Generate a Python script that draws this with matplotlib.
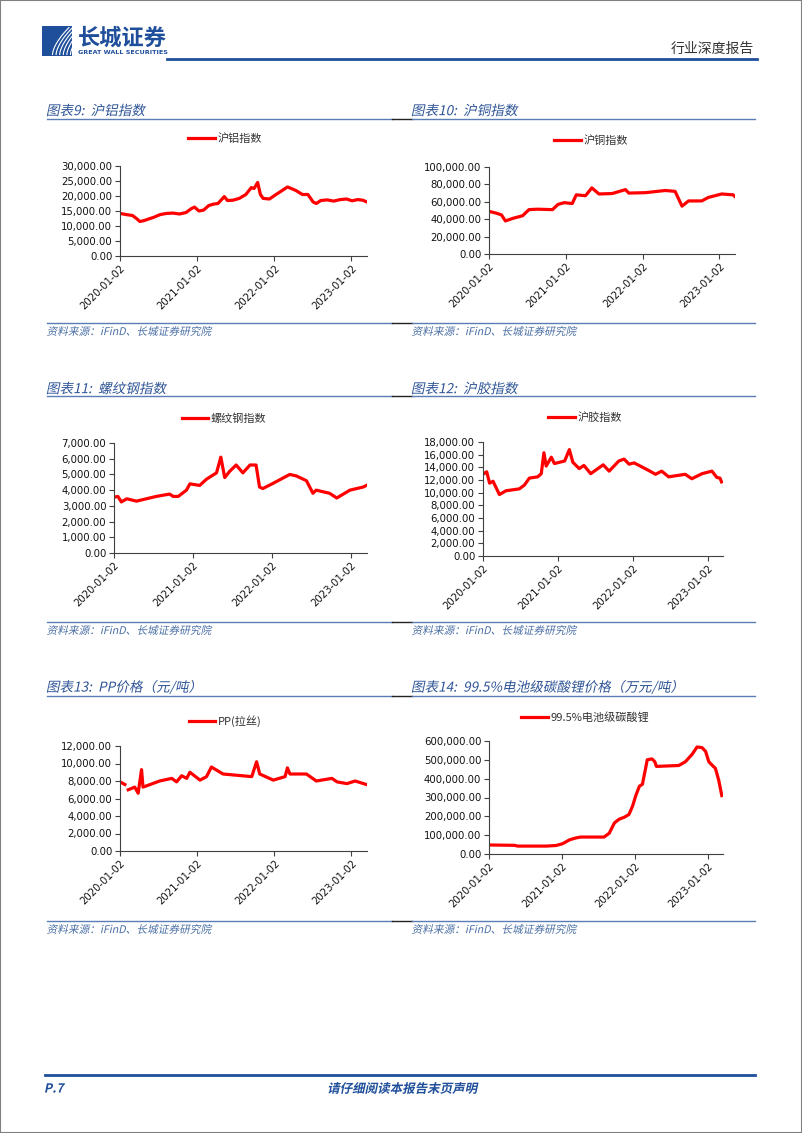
import numpy as np
import pandas as pd
import matplotlib.pyplot as plt
import matplotlib.transforms as mtransforms
from matplotlib.lines import Line2D
from matplotlib.patches import Rectangle, PathPatch
from matplotlib.textpath import TextPath
from matplotlib.font_manager import FontProperties
from matplotlib.ticker import FuncFormatter, MultipleLocator

plt.rcParams['font.family'] = ['Noto Sans CJK SC', 'DejaVu Sans']

# ---- 数据 ----
al_dates = ['2020-01-02', '2020-02-01', '2020-03-01', '2020-03-20', '2020-04-05', '2020-04-25',
            '2020-05-15', '2020-06-10', '2020-07-10', '2020-08-10', '2020-09-10', '2020-10-10',
            '2020-11-10', '2020-12-05', '2020-12-20', '2021-01-10', '2021-02-01', '2021-02-25',
            '2021-03-20', '2021-04-10', '2021-05-10', '2021-05-25', '2021-06-20', '2021-07-20',
            '2021-08-20', '2021-09-15', '2021-09-28', '2021-10-15', '2021-10-28', '2021-11-10',
            '2021-12-10', '2022-01-10', '2022-02-01', '2022-03-05', '2022-03-20', '2022-04-15',
            '2022-05-15', '2022-06-10', '2022-07-05', '2022-07-20', '2022-08-10', '2022-09-10',
            '2022-10-10', '2022-11-10', '2022-12-10', '2023-01-05', '2023-02-01', '2023-02-25',
            '2023-03-17']
al_vals = [14200, 13800, 13500, 12500, 11500, 11800, 12300, 12900, 13800, 14200, 14300, 14000,
           14500, 15800, 16300, 15000, 15300, 16800, 17300, 17500, 19800, 18500, 18600, 19200,
           20500, 22800, 22500, 24500, 20500, 19200, 19000, 20500, 21500, 23000, 22600, 21800,
           20500, 20500, 18000, 17500, 18500, 18700, 18300, 18800, 19000, 18400, 18800, 18600,
           18000]

cu_dates = ['2020-01-02', '2020-02-05', '2020-03-01', '2020-03-20', '2020-04-25', '2020-06-10',
            '2020-07-10', '2020-08-20', '2020-10-30', '2020-11-25', '2020-12-25', '2021-02-01',
            '2021-02-20', '2021-04-05', '2021-05-05', '2021-06-08', '2021-08-10', '2021-10-12',
            '2021-10-28', '2022-01-15', '2022-04-20', '2022-06-05', '2022-07-08', '2022-08-08',
            '2022-10-10', '2022-11-10', '2023-01-13', '2023-03-08', '2023-03-17']
cu_vals = [49000, 47000, 45000, 38000, 41000, 44000, 51000, 51500, 51000, 57000, 59000, 58000,
           68000, 67000, 76000, 69000, 69500, 74000, 70000, 70500, 73000, 72000, 55000, 61000,
           61000, 65000, 69000, 68000, 66000]

rb_dates = ['2020-01-02', '2020-01-20', '2020-02-05', '2020-03-01', '2020-04-15', '2020-07-15',
            '2020-09-15', '2020-10-02', '2020-10-25', '2020-12-02', '2020-12-18', '2021-02-01',
            '2021-03-05', '2021-04-20', '2021-05-10', '2021-05-28', '2021-06-20', '2021-07-20',
            '2021-08-20', '2021-09-22', '2021-10-20', '2021-11-05', '2021-11-20', '2022-01-02',
            '2022-03-25', '2022-04-25', '2022-06-10', '2022-07-10', '2022-07-25', '2022-09-25',
            '2022-10-28', '2022-12-28', '2023-01-28', '2023-02-28', '2023-03-14']
rb_vals = [3550, 3600, 3250, 3450, 3300, 3600, 3750, 3600, 3600, 4000, 4400, 4300,
           4700, 5100, 6100, 4800, 5200, 5600, 5100, 5600, 5600, 4200, 4100, 4400,
           5000, 4900, 4600, 3800, 4000, 3800, 3500, 4000, 4100, 4200, 4300]

ru_dates = ['2020-01-02', '2020-01-20', '2020-02-03', '2020-02-20', '2020-03-22', '2020-04-23',
            '2020-06-27', '2020-07-22', '2020-08-15', '2020-09-25', '2020-10-12', '2020-10-25',
            '2020-11-05', '2020-11-30', '2020-12-15', '2021-02-03', '2021-02-26', '2021-03-15',
            '2021-04-15', '2021-05-08', '2021-06-10', '2021-08-10', '2021-09-08', '2021-10-25',
            '2021-11-20', '2021-12-14', '2022-01-08', '2022-03-20', '2022-04-22', '2022-05-22',
            '2022-06-25', '2022-09-14', '2022-10-16', '2022-12-05', '2023-01-22', '2023-02-15',
            '2023-03-02', '2023-03-10']
ru_vals = [12900, 13300, 11500, 11800, 9700, 10300, 10600, 11200, 12300, 12500, 13000, 16300,
           14200, 15600, 14600, 15000, 16800, 14800, 13800, 14300, 13000, 14400, 13400, 15000,
           15300, 14500, 14700, 13500, 12900, 13400, 12500, 12900, 12200, 13000, 13400, 12400,
           12300, 11700]

pp_dates = ['2020-01-02', '2020-01-25', '2020-02-01', '2020-02-10', '2020-03-12', '2020-03-28',
            '2020-04-13', '2020-04-20', '2020-07-08', '2020-09-03', '2020-09-26', '2020-10-20',
            '2020-11-13', '2020-11-28', '2021-01-15', '2021-02-15', '2021-03-10', '2021-05-04',
            '2021-09-17', '2021-10-10', '2021-10-25', '2021-12-28', '2022-02-22', '2022-03-05',
            '2022-03-17', '2022-06-03', '2022-07-20', '2022-10-02', '2022-10-26', '2022-12-12',
            '2023-01-20', '2023-03-14']
pp_vals = [7900, 7600, np.nan, 7000, 7300, 6600, 9300, 7300, 8000, 8300, 7900, 8600,
           8300, 9000, 8100, 8500, 9600, 8800, 8500, 10200, 8800, 8100, 8500, 9500,
           8800, 8800, 8000, 8300, 7900, 7700, 8000, 7600]

li_dates = ['2020-01-02', '2020-05-08', '2020-05-25', '2020-10-14', '2020-12-02', '2021-01-05',
            '2021-02-07', '2021-03-10', '2021-04-04', '2021-07-30', '2021-08-25', '2021-09-20',
            '2021-10-14', '2021-11-08', '2021-12-02', '2021-12-20', '2022-01-05', '2022-01-23',
            '2022-02-07', '2022-02-24', '2022-03-03', '2022-03-27', '2022-04-10', '2022-04-18',
            '2022-08-08', '2022-09-10', '2022-10-14', '2022-11-07', '2022-12-02', '2022-12-20',
            '2023-01-05', '2023-01-23', '2023-02-07', '2023-02-24', '2023-03-11']
li_vals = [48000, 46000, 42000, 42000, 45000, 55000, 75000, 85000, 90000, 90000, 110000, 165000,
           185000, 195000, 210000, 255000, 310000, 360000, 370000, 460000, 500000, 505000, 490000,
           465000, 470000, 490000, 530000, 568000, 565000, 545000, 490000, 470000, 455000, 390000,
           310000]

year_ticks = ['2020-01-02', '2021-01-02', '2022-01-02', '2023-01-02']

W, H = 802, 1133
BLUE = '#1F4E9A'
TITLE_C = '#2F5597'
SRC_C = '#4A6FA5'
LINE_C = '#5B7DB5'

fig = plt.figure(figsize=(W / 100, H / 100), dpi=100)


def add_ax(x0, y0, x1, y1):
    return fig.add_axes([x0 / W, 1 - y1 / H, (x1 - x0) / W, (y1 - y0) / H])


def hline(x0, x1, y, color, lw):
    fig.add_artist(Line2D([x0 / W, x1 / W], [1 - y / H, 1 - y / H],
                          transform=fig.transFigure, color=color, lw=lw))


def itext(x, y, s, px, color, weight='normal', ha='left'):
    # 斜体文字: 用路径加倾斜变换模拟
    fp = FontProperties(family=['Noto Sans CJK SC', 'DejaVu Sans'], weight=weight)
    tp = TextPath((0, 0), s, size=px, prop=fp)
    bb = tp.get_extents()
    dx = x - bb.x0 if ha == 'left' else x - (bb.x0 + bb.x1) / 2
    tr = (mtransforms.Affine2D().skew_deg(12, 0)
          .translate(dx, (H - y) - (bb.y0 + bb.y1) / 2))
    fig.add_artist(PathPatch(tp, transform=tr, color=color, lw=0))


# 页面边框
fig.add_artist(Rectangle((0, 0), 1, 1, transform=fig.transFigure, fill=False,
                         ec='#808080', lw=1.5))

# 页眉
lax = add_ax(42, 26, 72, 56)
lax.add_patch(Rectangle((0, 0), 1, 1, color=BLUE))
t = np.linspace(0, 1, 50)
for k in range(6):
    off = 0.12 * k
    lax.plot(0.35 + off + 0.55 * t ** 1.6, 0.05 + 0.9 * t, color='white', lw=0.8)
lax.set_xlim(0, 1)
lax.set_ylim(0, 1)
lax.axis('off')
fig.text(78 / W, 1 - 38 / H, '长城证券', fontsize=16, fontweight='bold', color=BLUE,
         va='center', ha='left')
fig.text(78 / W, 1 - 53 / H, 'GREAT WALL SECURITIES', fontsize=4.6, fontweight='bold',
         color=BLUE, va='center', ha='left', family='DejaVu Sans')
hline(167, 757, 59, BLUE, 2)
fig.text(754 / W, 1 - 49 / H, '行业深度报告', fontsize=10, color='#333333',
         va='center', ha='right')

# 页脚
hline(45, 755, 1075, BLUE, 2)
itext(45, 1088, 'P.7', 12.5, BLUE, weight='bold')
itext(402, 1088, '请仔细阅读本报告末页声明', 12.5, BLUE, weight='bold', ha='center')

# 各图表
charts = [
    ('图表9:  沪铝指数', '沪铝指数', al_dates, al_vals, 30000, 5000,
     (120, 166, 367, 256), (225, 139), 47, 110, 119, 323, 331),
    ('图表10:  沪铜指数', '沪铜指数', cu_dates, cu_vals, 100000, 20000,
     (489, 167, 735, 254), (591, 141), 412, 110, 119, 323, 331),
    ('图表11:  螺纹钢指数', '螺纹钢指数', rb_dates, rb_vals, 7000, 1000,
     (114, 443, 367, 553), (224, 419), 47, 388, 396, 622, 630),
    ('图表12:  沪胶指数', '沪胶指数', ru_dates, ru_vals, 18000, 2000,
     (483, 442, 723, 556), (585, 417), 412, 388, 396, 622, 630),
    ('图表13:  PP价格（元/吨）', 'PP(拉丝)', pp_dates, pp_vals, 12000, 2000,
     (120, 746, 367, 851), (225, 721), 47, 687, 696, 921, 929),
    ('图表14:  99.5%电池级碳酸锂价格（万元/吨）', '99.5%电池级碳酸锂', li_dates, li_vals,
     600000, 100000, (489, 741, 723, 854), (585, 717), 412, 687, 696, 921, 929),
]

x_start = pd.Timestamp('2020-01-02')
x_end = pd.Timestamp('2023-03-17')

for (title, label, dates, vals, ymax, ystep, box, leg_c,
     tx, ty, uy, sy, sty) in charts:
    ax = add_ax(*box)
    ax.plot(pd.to_datetime(dates), vals, color='#FF0000', lw=2.3, label=label)
    ax.set_xlim(x_start, x_end)
    ax.set_ylim(0, ymax)
    ax.yaxis.set_major_locator(MultipleLocator(ystep))
    ax.yaxis.set_major_formatter(FuncFormatter(lambda v, p: f'{v:,.2f}'))
    ax.set_xticks(pd.to_datetime(year_ticks))
    ax.set_xticklabels(year_ticks, rotation=45, ha='right', rotation_mode='anchor')
    for lab in ax.get_xticklabels() + ax.get_yticklabels():
        lab.set_family('DejaVu Sans')
        lab.set_fontsize(7.3)
        lab.set_color('#111111')
    ax.tick_params(axis='both', length=3.5, width=0.8, color='#404040', pad=2)
    ax.spines['top'].set_visible(False)
    ax.spines['right'].set_visible(False)
    for sp in ('left', 'bottom'):
        ax.spines[sp].set_color('#404040')
        ax.spines[sp].set_linewidth(0.8)
    ax.legend(loc='center', bbox_to_anchor=(leg_c[0] / W, 1 - leg_c[1] / H),
              bbox_transform=fig.transFigure, frameon=False, fontsize=8,
              handlelength=2.4, handletextpad=0.2, labelcolor='#333333')

    # 标题、分隔线、资料来源
    itext(tx, ty, title, 13.6, TITLE_C)
    if tx < 400:
        hline(47, 392, uy, LINE_C, 1)
        hline(392, 412, uy, '#222222', 1)
        hline(47, 392, sy, LINE_C, 1)
        hline(392, 412, sy, '#222222', 1)
    else:
        hline(412, 755, uy, LINE_C, 1)
        hline(412, 755, sy, LINE_C, 1)
    itext(tx, sty, '资料来源：iFinD、长城证券研究院', 10.7, SRC_C)

plt.savefig('out.png', dpi=100)
